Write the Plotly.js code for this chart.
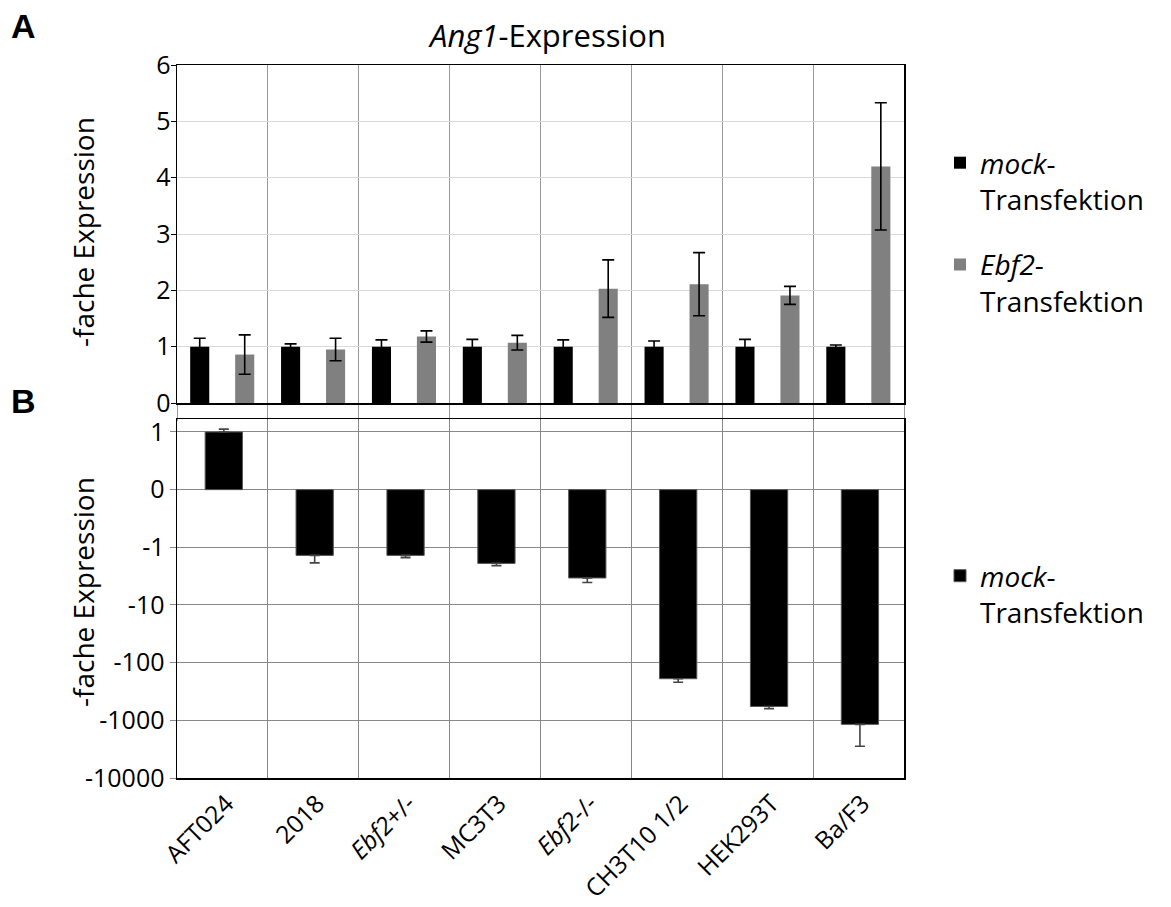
<!DOCTYPE html>
<html>
<head>
<meta charset="utf-8">
<script src="https://cdn.plot.ly/plotly-3.0.1.min.js"></script>
<style>html,body{margin:0;padding:0;background:#fff;}</style>
</head>
<body>
<div id="chart" style="width:1171px;height:907px;"></div>
<script>
// ---- data ----
var categories = ["AFT024", "2018", "<i>Ebf2</i>+/-", "MC3T3", "<i>Ebf2</i>-/-", "CH3T10 1/2", "HEK293T", "Ba/F3"];
// Panel A: fold expression (linear)
var mockA = [1, 1, 1, 1, 1, 1, 1, 1];
var mockAErr = [0.15, 0.05, 0.12, 0.13, 0.12, 0.10, 0.13, 0.03];
var ebf2A = [0.86, 0.95, 1.18, 1.07, 2.03, 2.11, 1.91, 4.20];
var ebf2AErr = [0.35, 0.20, 0.10, 0.13, 0.51, 0.56, 0.16, 1.13];
// Panel B: fold expression (signed log scale)
var mockB = [1.0, -1.38, -1.38, -1.9, -3.4, -190, -575, -1175];
var mockBErr = [0.05, 0.48, 0.13, 0.19, 0.67, 29, 56, 1640];
var bTickLabels = [1, 0, -1, -10, -100, -1000, -10000];
var seriesNames = ["<i>mock</i>-<br>Transfektion", "<i>Ebf2</i>-<br>Transfektion"];

// signed fold scale: positive linear, negative folds log10 spaced (-1 -> -1, -10 -> -2 ...)
function f(v) { return v >= 0 ? v : (v > -1 ? v : -(1 + Math.log10(-v))); }
var mockBPos = mockB.map(f);
var mockBErrUp = mockB.map(function (v, i) { return v >= 0 ? Math.abs(f(v + mockBErr[i]) - f(v)) : 0; });
var mockBErrDown = mockB.map(function (v, i) { return v < 0 ? Math.abs(f(v - mockBErr[i]) - f(v)) : 0; });

var FONT = "Open Sans, Noto Sans, sans-serif";

var traces = [
  {
    type: "bar", x: categories, y: mockA, name: seriesNames[0],
    xaxis: "x", yaxis: "y", width: 0.21, offset: -0.355,
    marker: { color: "#000000", line: { width: 0 } },
    error_y: { type: "data", array: mockAErr, visible: true, color: "#000", thickness: 1.6, width: 6 },
    legend: "legend", legendgroup: "m"
  },
  {
    type: "bar", x: categories, y: ebf2A, name: seriesNames[1],
    xaxis: "x", yaxis: "y", width: 0.21, offset: 0.14,
    marker: { color: "#808080", line: { width: 0 } },
    error_y: { type: "data", array: ebf2AErr, visible: true, color: "#000", thickness: 1.6, width: 6 },
    legend: "legend", legendgroup: "e"
  },
  {
    type: "bar", x: categories, y: mockBPos, name: seriesNames[0],
    xaxis: "x2", yaxis: "y2", width: 0.41, offset: -0.19,
    marker: { color: "#000000", line: { width: 1, color: "#555" } },
    error_y: { type: "data", symmetric: false, array: mockBErrUp, arrayminus: mockBErrDown, visible: true, color: "#444", thickness: 1.6, width: 5 },
    legend: "legend2", legendgroup: "m2"
  }
];

var xDom = [177 / 1171, 904 / 1171];
var layout = {
  width: 1171, height: 907,
  margin: { l: 0, r: 0, t: 0, b: 0 },
  paper_bgcolor: "#fff", plot_bgcolor: "#fff",
  font: { family: FONT, color: "#000", size: 22 },
  showlegend: true,
  title: { text: "<i>Ang1</i>-Expression", x: 548 / 1171, xanchor: "center", xref: "paper", y: 1 - 36 / 907, yanchor: "middle", yref: "paper", font: { size: 31, family: FONT } },
  xaxis: {
    domain: xDom, anchor: "y", type: "category", range: [-0.5, 7.5],
    tickson: "boundaries", showgrid: true, gridcolor: "#999", gridwidth: 1,
    ticks: "outside", ticklen: 16, tickcolor: "#999", showticklabels: false,
    showline: true, linecolor: "#000", linewidth: 1.5, mirror: true
  },
  yaxis: {
    domain: [1 - 403 / 907, 1 - 65 / 907], anchor: "x", range: [0, 6], dtick: 1,
    showgrid: true, gridcolor: "#d9d9d9", zeroline: false,
    showline: true, linecolor: "#000", linewidth: 1.5, mirror: true,
    ticks: "outside", ticklen: 5, tickcolor: "#000", tickfont: { size: 25 },
    ticklabelstandoff: -5
  },
  xaxis2: {
    domain: xDom, anchor: "y2", type: "category", range: [-0.5, 7.5],
    tickson: "boundaries", showgrid: true, gridcolor: "#888", gridwidth: 1,
    ticks: "", tickangle: -45, tickfont: { size: 24.5 }, ticklabelshift: 4,
    showline: true, linecolor: "#000", linewidth: 1.5, mirror: true
  },
  yaxis2: {
    domain: [1 - 778 / 907, 1 - 419 / 907], anchor: "x2", range: [-5, 1.225],
    tickmode: "array", tickvals: bTickLabels.map(f), ticktext: bTickLabels.map(String),
    showgrid: true, gridcolor: "#888", zeroline: false,
    showline: true, linecolor: "#000", linewidth: 1.5, mirror: true,
    ticks: "outside", ticklen: 6, tickcolor: "#888", tickfont: { size: 25 }
  },
  legend: {
    x: 940 / 1171, xanchor: "left", y: 1 - 138 / 907, yanchor: "top",
    font: { size: 28, family: FONT }, valign: "top", tracegroupgap: 26,
    bgcolor: "rgba(0,0,0,0)", traceorder: "grouped"
  },
  legend2: {
    x: 940 / 1171, xanchor: "left", y: 1 - 551 / 907, yanchor: "top",
    font: { size: 28, family: FONT }, valign: "top",
    bgcolor: "rgba(0,0,0,0)"
  },
  annotations: [
    { text: "<b>A</b>", x: 9 / 1171, y: 1 - 26 / 907, xref: "paper", yref: "paper", xanchor: "left", yanchor: "middle", showarrow: false, font: { size: 34, family: "Liberation Sans, Arial, sans-serif" } },
    { text: "<b>B</b>", x: 9 / 1171, y: 1 - 401 / 907, xref: "paper", yref: "paper", xanchor: "left", yanchor: "middle", showarrow: false, font: { size: 34, family: "Liberation Sans, Arial, sans-serif" } },
    { text: "-fache Expression", x: 83 / 1171, y: 1 - 232 / 907, xref: "paper", yref: "paper", xanchor: "center", yanchor: "middle", textangle: -90, showarrow: false, font: { size: 28, family: FONT } },
    { text: "-fache Expression", x: 83 / 1171, y: 1 - 592 / 907, xref: "paper", yref: "paper", xanchor: "center", yanchor: "middle", textangle: -90, showarrow: false, font: { size: 28, family: FONT } }
  ]
};

Plotly.newPlot("chart", traces, layout, { displayModeBar: false, staticPlot: true });
</script>
</body>
</html>
